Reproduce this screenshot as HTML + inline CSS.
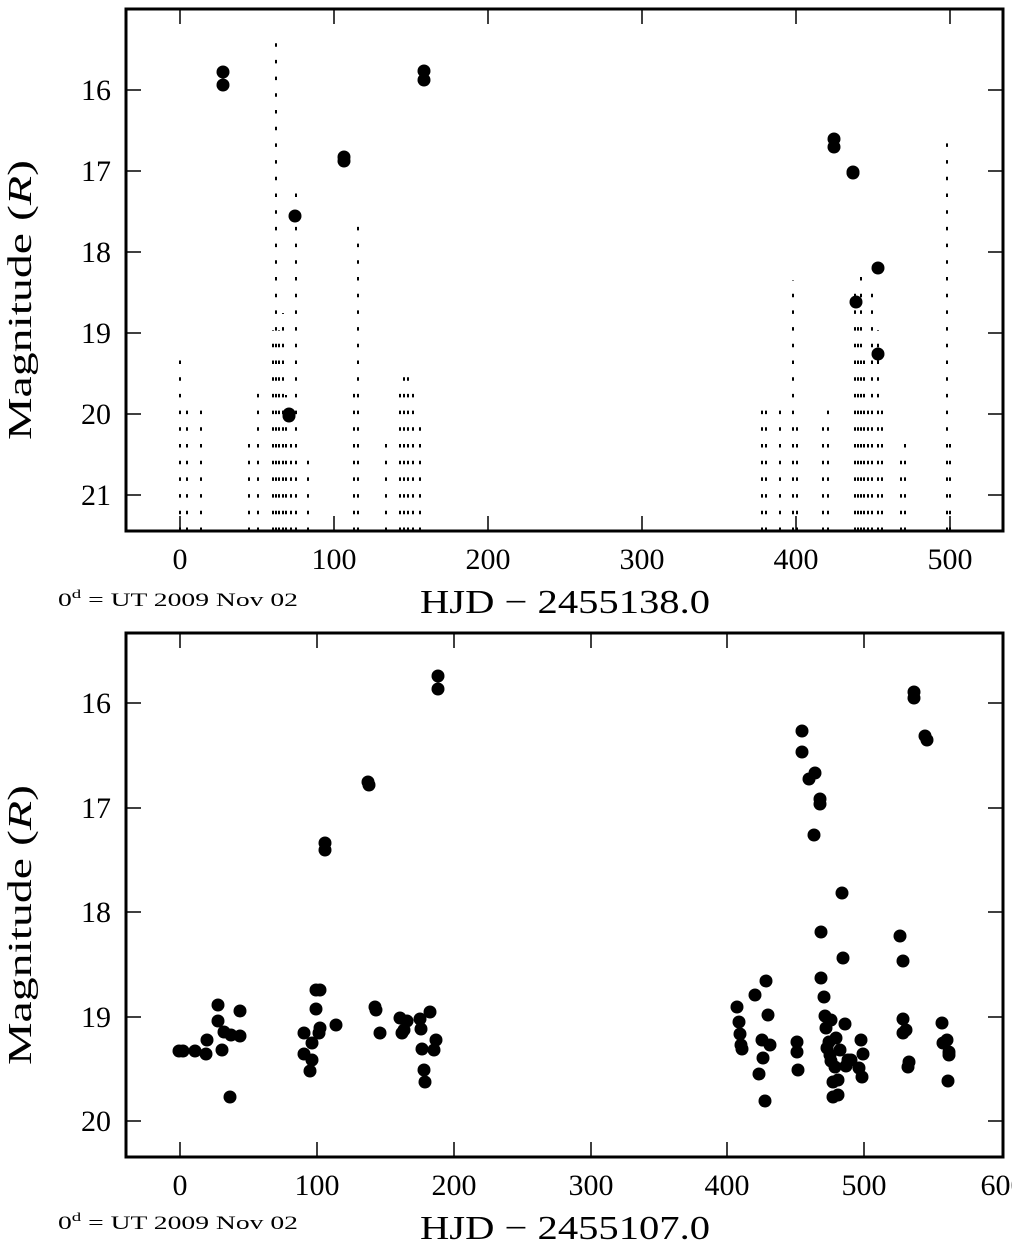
<!DOCTYPE html>
<html><head><meta charset="utf-8"><style>
body{margin:0;background:#fff}
svg{display:block}
text{font-family:"Liberation Serif",serif;fill:#000}
</style></head><body>
<svg width="1012" height="1250" viewBox="0 0 1012 1250" xmlns="http://www.w3.org/2000/svg">
<g stroke="#000" stroke-width="2" stroke-dasharray="3.5 13.2" fill="none">
<line x1="180" y1="531" x2="180" y2="355"/>
<line x1="187" y1="531" x2="187" y2="408"/>
<line x1="201" y1="531" x2="201" y2="408"/>
<line x1="249" y1="531" x2="249" y2="440"/>
<line x1="258" y1="531" x2="258" y2="390"/>
<line x1="273" y1="531" x2="273" y2="330"/>
<line x1="276" y1="531" x2="276" y2="42"/>
<line x1="279" y1="531" x2="279" y2="330"/>
<line x1="283" y1="531" x2="283" y2="313"/>
<line x1="286" y1="531" x2="286" y2="395"/>
<line x1="291" y1="531" x2="291" y2="440"/>
<line x1="296" y1="531" x2="296" y2="190"/>
<line x1="308" y1="531" x2="308" y2="458"/>
<line x1="354" y1="531" x2="354" y2="393"/>
<line x1="358" y1="531" x2="358" y2="225"/>
<line x1="386" y1="531" x2="386" y2="440"/>
<line x1="400" y1="531" x2="400" y2="390"/>
<line x1="404" y1="531" x2="404" y2="375"/>
<line x1="408" y1="531" x2="408" y2="375"/>
<line x1="413" y1="531" x2="413" y2="390"/>
<line x1="420" y1="531" x2="420" y2="425"/>
<line x1="762" y1="531" x2="762" y2="408"/>
<line x1="766" y1="531" x2="766" y2="408"/>
<line x1="780" y1="531" x2="780" y2="408"/>
<line x1="793" y1="531" x2="793" y2="280"/>
<line x1="797" y1="531" x2="797" y2="420"/>
<line x1="823" y1="531" x2="823" y2="420"/>
<line x1="828" y1="531" x2="828" y2="410"/>
<line x1="855" y1="531" x2="855" y2="290"/>
<line x1="858" y1="531" x2="858" y2="320"/>
<line x1="861" y1="531" x2="861" y2="270"/>
<line x1="864" y1="531" x2="864" y2="350"/>
<line x1="868" y1="531" x2="868" y2="400"/>
<line x1="872" y1="531" x2="872" y2="290"/>
<line x1="878" y1="531" x2="878" y2="330"/>
<line x1="882" y1="531" x2="882" y2="400"/>
<line x1="901" y1="531" x2="901" y2="450"/>
<line x1="905" y1="531" x2="905" y2="440"/>
<line x1="947" y1="531" x2="947" y2="140"/>
<line x1="950" y1="531" x2="950" y2="440"/>
</g>
<g fill="#000">
<circle cx="223" cy="72" r="6.5"/><circle cx="223" cy="85" r="6.5"/>
<circle cx="295" cy="216" r="6.5"/><circle cx="289" cy="414" r="6.5"/><circle cx="289" cy="416" r="6.5"/>
<circle cx="344" cy="157" r="6.5"/><circle cx="344" cy="161" r="6.5"/>
<circle cx="424" cy="71" r="6.5"/><circle cx="424" cy="80" r="6.5"/>
<circle cx="834" cy="139" r="6.5"/><circle cx="834" cy="147" r="6.5"/>
<circle cx="853" cy="172" r="6.5"/><circle cx="853" cy="173" r="6.5"/>
<circle cx="878" cy="268" r="6.5"/><circle cx="856" cy="302" r="6.5"/><circle cx="878" cy="354" r="6.5"/>
</g>
<rect x="126" y="9" width="877" height="522" fill="none" stroke="#000" stroke-width="3"/>
<g stroke="#000" stroke-width="1.5">
<path d="M180 531v-15M334 531v-15M488 531v-15M642 531v-15M796 531v-15M950 531v-15M180 9v15M334 9v15M488 9v15M642 9v15M796 9v15M950 9v15"/>
<path d="M126 90h15M126 171h15M126 252h15M126 333h15M126 414h15M126 495h15M1003 90h-15M1003 171h-15M1003 252h-15M1003 333h-15M1003 414h-15M1003 495h-15"/>
</g>
<g font-size="30" text-anchor="end">
<text x="111" y="100">16</text><text x="111" y="181">17</text><text x="111" y="262">18</text>
<text x="111" y="343">19</text><text x="111" y="424">20</text><text x="111" y="505">21</text>
</g>
<g font-size="30" text-anchor="middle">
<text x="180" y="569">0</text><text x="334" y="569">100</text><text x="488" y="569">200</text>
<text x="642" y="569">300</text><text x="796" y="569">400</text><text x="950" y="569">500</text>
</g>
<text x="420" y="613" font-size="34" textLength="290" lengthAdjust="spacingAndGlyphs">HJD − 2455138.0</text>
<text x="58" y="606" font-size="19" textLength="240" lengthAdjust="spacingAndGlyphs">0<tspan font-size="13" dy="-8">d</tspan><tspan dy="8"> = UT 2009 Nov 02</tspan></text>
<text transform="translate(31,300) rotate(-90)" font-size="34" text-anchor="middle" textLength="280" lengthAdjust="spacingAndGlyphs">Magnitude (<tspan font-style="italic">R</tspan>)</text>

<g fill="#000">
<circle cx="179" cy="1051" r="6.5"/><circle cx="183" cy="1051" r="6.5"/><circle cx="195" cy="1051" r="6.5"/>
<circle cx="206" cy="1054" r="6.5"/><circle cx="207" cy="1040" r="6.5"/><circle cx="218" cy="1005" r="6.5"/>
<circle cx="218" cy="1021" r="6.5"/><circle cx="222" cy="1050" r="6.5"/><circle cx="224" cy="1032" r="6.5"/>
<circle cx="230" cy="1097" r="6.5"/><circle cx="231" cy="1035" r="6.5"/><circle cx="240" cy="1011" r="6.5"/>
<circle cx="240" cy="1036" r="6.5"/><circle cx="304" cy="1033" r="6.5"/><circle cx="304" cy="1054" r="6.5"/>
<circle cx="310" cy="1071" r="6.5"/><circle cx="312" cy="1060" r="6.5"/><circle cx="312" cy="1043" r="6.5"/>
<circle cx="316" cy="990" r="6.5"/><circle cx="319" cy="1033" r="6.5"/><circle cx="316" cy="1009" r="6.5"/>
<circle cx="320" cy="990" r="6.5"/><circle cx="320" cy="1028" r="6.5"/><circle cx="325" cy="843" r="6.5"/>
<circle cx="325" cy="850" r="6.5"/><circle cx="336" cy="1025" r="6.5"/><circle cx="368" cy="782" r="6.5"/>
<circle cx="369" cy="785" r="6.5"/><circle cx="375" cy="1007" r="6.5"/><circle cx="376" cy="1010" r="6.5"/>
<circle cx="380" cy="1033" r="6.5"/><circle cx="400" cy="1018" r="6.5"/><circle cx="402" cy="1033" r="6.5"/>
<circle cx="404" cy="1030" r="6.5"/><circle cx="407" cy="1021" r="6.5"/><circle cx="420" cy="1019" r="6.5"/>
<circle cx="421" cy="1029" r="6.5"/><circle cx="422" cy="1049" r="6.5"/><circle cx="424" cy="1070" r="6.5"/>
<circle cx="425" cy="1082" r="6.5"/><circle cx="430" cy="1012" r="6.5"/><circle cx="434" cy="1050" r="6.5"/>
<circle cx="436" cy="1040" r="6.5"/><circle cx="438" cy="676" r="6.5"/><circle cx="438" cy="689" r="6.5"/>
<circle cx="737" cy="1007" r="6.5"/><circle cx="739" cy="1022" r="6.5"/><circle cx="740" cy="1034" r="6.5"/>
<circle cx="741" cy="1045" r="6.5"/><circle cx="742" cy="1049" r="6.5"/><circle cx="755" cy="995" r="6.5"/>
<circle cx="759" cy="1074" r="6.5"/><circle cx="762" cy="1040" r="6.5"/><circle cx="763" cy="1058" r="6.5"/>
<circle cx="766" cy="981" r="6.5"/><circle cx="768" cy="1015" r="6.5"/><circle cx="770" cy="1045" r="6.5"/>
<circle cx="765" cy="1101" r="6.5"/><circle cx="797" cy="1042" r="6.5"/><circle cx="797" cy="1052" r="6.5"/>
<circle cx="798" cy="1070" r="6.5"/><circle cx="802" cy="731" r="6.5"/><circle cx="802" cy="752" r="6.5"/>
<circle cx="809" cy="779" r="6.5"/><circle cx="814" cy="835" r="6.5"/><circle cx="815" cy="773" r="6.5"/>
<circle cx="820" cy="799" r="6.5"/><circle cx="820" cy="804" r="6.5"/><circle cx="821" cy="932" r="6.5"/>
<circle cx="821" cy="978" r="6.5"/><circle cx="824" cy="997" r="6.5"/><circle cx="825" cy="1016" r="6.5"/>
<circle cx="826" cy="1028" r="6.5"/><circle cx="827" cy="1048" r="6.5"/><circle cx="829" cy="1042" r="6.5"/>
<circle cx="831" cy="1020" r="6.5"/><circle cx="831" cy="1061" r="6.5"/><circle cx="833" cy="1082" r="6.5"/>
<circle cx="833" cy="1097" r="6.5"/><circle cx="836" cy="1038" r="6.5"/><circle cx="838" cy="1095" r="6.5"/>
<circle cx="838" cy="1080" r="6.5"/><circle cx="840" cy="1050" r="6.5"/><circle cx="842" cy="893" r="6.5"/>
<circle cx="843" cy="958" r="6.5"/><circle cx="845" cy="1024" r="6.5"/><circle cx="846" cy="1066" r="6.5"/>
<circle cx="848" cy="1060" r="6.5"/><circle cx="851" cy="1060" r="6.5"/><circle cx="859" cy="1068" r="6.5"/>
<circle cx="861" cy="1040" r="6.5"/><circle cx="862" cy="1077" r="6.5"/><circle cx="863" cy="1054" r="6.5"/>
<circle cx="900" cy="936" r="6.5"/><circle cx="903" cy="961" r="6.5"/><circle cx="903" cy="1019" r="6.5"/>
<circle cx="903" cy="1033" r="6.5"/><circle cx="906" cy="1030" r="6.5"/><circle cx="908" cy="1067" r="6.5"/>
<circle cx="909" cy="1062" r="6.5"/><circle cx="914" cy="692" r="6.5"/><circle cx="914" cy="698" r="6.5"/>
<circle cx="925" cy="736" r="6.5"/><circle cx="927" cy="740" r="6.5"/><circle cx="942" cy="1023" r="6.5"/>
<circle cx="943" cy="1043" r="6.5"/><circle cx="947" cy="1040" r="6.5"/><circle cx="949" cy="1052" r="6.5"/>
<circle cx="949" cy="1055" r="6.5"/><circle cx="948" cy="1081" r="6.5"/><circle cx="830" cy="1055" r="6.5"/>
<circle cx="835" cy="1067" r="6.5"/>
</g>
<rect x="126" y="633" width="877" height="524" fill="none" stroke="#000" stroke-width="3"/>
<g stroke="#000" stroke-width="1.5">
<path d="M180 1157v-15M317 1157v-15M454 1157v-15M591 1157v-15M727 1157v-15M864 1157v-15M180 633v15M317 633v15M454 633v15M591 633v15M727 633v15M864 633v15"/>
<path d="M126 703h15M126 808h15M126 912h15M126 1017h15M126 1121h15M1003 703h-15M1003 808h-15M1003 912h-15M1003 1017h-15M1003 1121h-15"/>
</g>
<g font-size="30" text-anchor="end">
<text x="111" y="713">16</text><text x="111" y="818">17</text><text x="111" y="922">18</text>
<text x="111" y="1027">19</text><text x="111" y="1131">20</text>
</g>
<g font-size="30" text-anchor="middle">
<text x="180" y="1195">0</text><text x="317" y="1195">100</text><text x="454" y="1195">200</text>
<text x="591" y="1195">300</text><text x="727" y="1195">400</text><text x="864" y="1195">500</text><text x="1003" y="1195">600</text>
</g>
<text x="420" y="1239" font-size="34" textLength="290" lengthAdjust="spacingAndGlyphs">HJD − 2455107.0</text>
<text x="58" y="1229" font-size="19" textLength="240" lengthAdjust="spacingAndGlyphs">0<tspan font-size="13" dy="-8">d</tspan><tspan dy="8"> = UT 2009 Nov 02</tspan></text>
<text transform="translate(31,925) rotate(-90)" font-size="34" text-anchor="middle" textLength="280" lengthAdjust="spacingAndGlyphs">Magnitude (<tspan font-style="italic">R</tspan>)</text>
</svg>
</body></html>
